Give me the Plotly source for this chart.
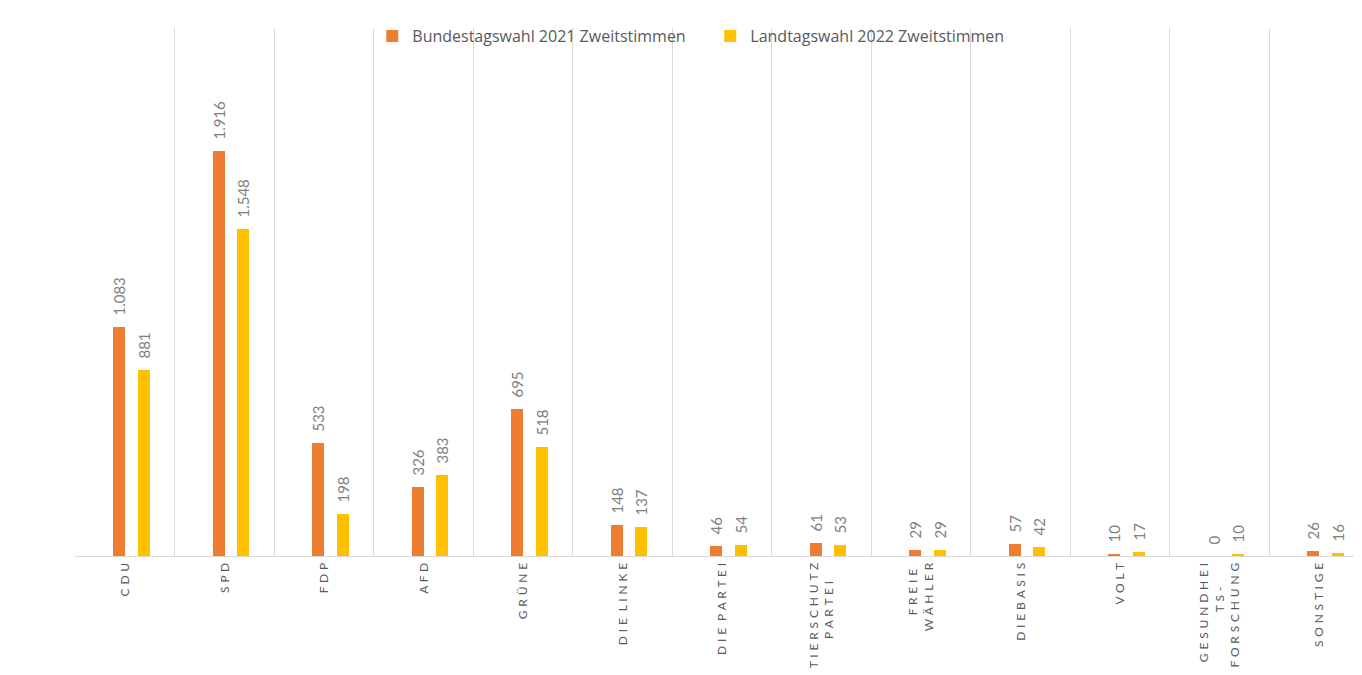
import plotly.graph_objects as go

categories = ["CDU", "SPD", "FDP", "AFD", "GRÜNE", "DIE LINKE", "DIE PARTEI",
              "TIERSCHUTZ<br>PARTEI", "FREIE<br>WÄHLER", "DIEBASIS", "VOLT",
              "GESUNDHEI<br>TS-<br>FORSCHUNG", "SONSTIGE"]
btw_2021 = [1083, 1916, 533, 326, 695, 148, 46, 61, 29, 57, 10, 0, 26]
ltw_2022 = [881, 1548, 198, 383, 518, 137, 54, 53, 29, 42, 17, 10, 16]
series_names = ["Bundestagswahl 2021 Zweitstimmen", "Landtagswahl 2022 Zweitstimmen"]
colors = ["#ED7D31", "#FFC000"]


def spaced(label):
    # letter-spaced text; shorter lines padded so lines appear centred
    lines = label.split("<br>")
    maxlen = max(len(ln) for ln in lines)
    out = []
    for ln in lines:
        words = ln.split(" ")
        txt = "\u00a0\u00a0\u200a".join(" \u200a".join(list(w)) for w in words)
        pad = round((maxlen - len(ln)) * 4.4 / 6.0)
        out.append(txt + "\u2002" * pad)
    return "<br>".join(out)


def de_fmt(v):
    return f"{v:,}".replace(",", ".")


tick_text = [spaced(c) for c in categories]

fig = go.Figure()
for name, vals, col, off in [(series_names[0], btw_2021, colors[0], -0.122),
                             (series_names[1], ltw_2022, colors[1], 0.125)]:
    fig.add_trace(go.Bar(
        x=categories, y=vals, name=name,
        marker=dict(color=col, line=dict(width=0)),
        width=0.122, offset=off,
        text=["\u2002\u200a" + de_fmt(v) for v in vals],
        textposition="outside", textangle=-90,
        constraintext="none",
        textfont=dict(family="Lato", size=15, color="#7F7F7F"),
        cliponaxis=False,
    ))

fig.update_layout(
    width=1354, height=667,
    margin=dict(l=67, r=0, t=20, b=119),
    paper_bgcolor="white", plot_bgcolor="white",
    barmode="overlay",
    font=dict(family="Lato", color="#595959"),
    legend=dict(orientation="h", x=0.231, y=1.017, xanchor="left", yanchor="top",
                bgcolor="rgba(0,0,0,0)", font=dict(family="Open Sans", size=16, color="#595959"),
                entrywidth=293, entrywidthmode="pixels", traceorder="normal"),
    xaxis=dict(type="category", tickson="boundaries", showgrid=True,
               gridcolor="#D9D9D9", gridwidth=1, showline=True, linecolor="#D9D9D9",
               linewidth=1, ticks="", tickangle=-90, ticklabelstandoff=1,
               automargin=False,
               tickvals=categories, ticktext=tick_text,
               tickfont=dict(family="Lato", size=12, color="#595959"),
               range=[-0.505, 12.43], zeroline=False),
    yaxis=dict(range=[0, 2500], showgrid=False, showticklabels=False,
               zeroline=False, showline=False, ticks="", automargin=False),
    bargap=0,
)

fig.write_html("out.html")
